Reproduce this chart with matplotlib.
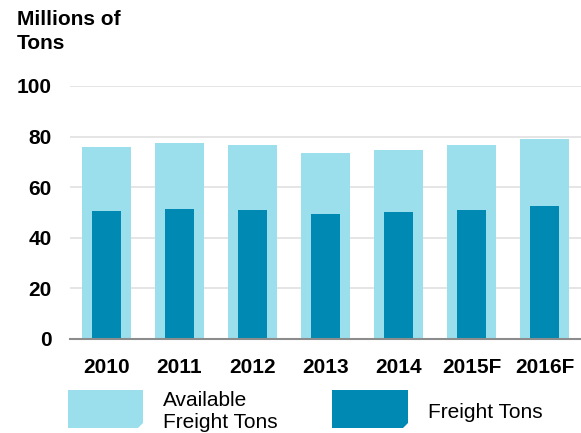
import matplotlib
matplotlib.use("Agg")
from matplotlib import pyplot as plt
from matplotlib.patches import Polygon
import numpy as np

plt.rcParams['font.family'] = ['Liberation Sans', 'DejaVu Sans']

# data
years = ['2010', '2011', '2012', '2013', '2014', '2015F', '2016F']
available = [75.7, 77.5, 76.7, 73.7, 74.9, 76.5, 79.2]
freight = [50.4, 51.2, 50.8, 49.3, 50.2, 51.1, 52.4]

light = '#9bdfec'
dark = '#0089b2'

fig = plt.figure(figsize=(5.81, 4.33), dpi=100)
ax = fig.add_axes([70/581, 1 - 339/433, 1 - 70/581, (339 - 86)/433])

x = np.arange(len(years))
ax.bar(x, available, width=0.66, color=light, zorder=2)
ax.bar(x, freight, width=0.40, color=dark, zorder=3)

ax.set_xlim(-0.5, 6.5)
ax.set_ylim(0, 100)
ax.set_yticks([0, 20, 40, 60, 80, 100])
ax.set_xticks(x)
ax.set_xticklabels(years)
ax.yaxis.grid(True, color='#e0e0e0', linewidth=1.2, zorder=0)
ax.set_axisbelow(True)
for s in ['top', 'right', 'left']:
    ax.spines[s].set_visible(False)
ax.spines['bottom'].set_color('#8c8c8c')
ax.spines['bottom'].set_linewidth(1.5)
ax.spines['bottom'].set_zorder(4)
ax.tick_params(axis='both', length=0, labelsize=15)
ax.tick_params(axis='y', pad=13)
ax.tick_params(axis='x', pad=14)
for lab in ax.get_xticklabels() + ax.get_yticklabels():
    lab.set_fontweight('bold')

fig.text(17/581, 1 - 10/433, 'Millions of\nTons', fontsize=15, fontweight='bold',
         ha='left', va='top', linespacing=1.33)

# legend drawn by hand (chamfered swatches like the original)
def swatch(x0, x1, y0, y1, color):
    c = 5
    pts = [(x0, y0), (x1, y0), (x1, y1 - c), (x1 - c, y1), (x0, y1)]
    pts = [(px/581, 1 - py/433) for px, py in pts]
    fig.patches.append(Polygon(pts, closed=True, facecolor=color, edgecolor='none',
                               transform=fig.transFigure, figure=fig))

swatch(68, 143, 390, 428, light)
swatch(332, 408, 390, 428, dark)
fig.text(163/581, 1 - 411/433, 'Available\nFreight Tons', fontsize=15,
         ha='left', va='center', linespacing=1.2)
fig.text(428/581, 1 - 413/433, 'Freight Tons', fontsize=15,
         ha='left', va='center')

fig.savefig('out.png', dpi=100)
